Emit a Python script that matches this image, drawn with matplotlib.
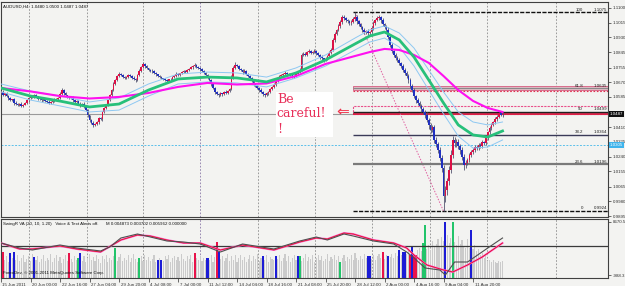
import matplotlib
matplotlib.use("Agg")
import matplotlib.pyplot as plt
import matplotlib.transforms as mtransforms
from matplotlib.patches import Rectangle
import numpy as np

# AUDUSD H4, 15 Jun - 12 Aug 2011
PIP = 0.0001
first_open = 1.0605
closes = [
    1.0614, 1.0598, 1.0605, 1.0590, 1.0578, 1.0567, 1.0572, 1.0551, 1.0544, 1.0538,
    1.0547, 1.0532, 1.0541, 1.0550, 1.0566, 1.0579, 1.0590, 1.0584, 1.0596, 1.0588,
    1.0575, 1.0579, 1.0566, 1.0571, 1.0559, 1.0556, 1.0548, 1.0555, 1.0561, 1.0570,
    1.0574, 1.0579, 1.0602, 1.0625, 1.0608, 1.0594, 1.0585, 1.0577, 1.0583, 1.0566,
    1.0556, 1.0562, 1.0547, 1.0538, 1.0544, 1.0527, 1.0509, 1.0478, 1.0452, 1.0436,
    1.0423, 1.0431, 1.0440, 1.0462, 1.0455, 1.0498, 1.0519, 1.0541, 1.0567, 1.0594,
    1.0625, 1.0660, 1.0683, 1.0706, 1.0718, 1.0710, 1.0701, 1.0695, 1.0703, 1.0712,
    1.0706, 1.0696, 1.0689, 1.0683, 1.0712, 1.0735, 1.0758, 1.0776, 1.0762, 1.0750,
    1.0741, 1.0733, 1.0738, 1.0724, 1.0715, 1.0707, 1.0700, 1.0692, 1.0688, 1.0683,
    1.0679, 1.0686, 1.0689, 1.0699, 1.0708, 1.0718, 1.0714, 1.0722, 1.0729, 1.0735,
    1.0731, 1.0741, 1.0749, 1.0757, 1.0764, 1.0770, 1.0760, 1.0753, 1.0745, 1.0736,
    1.0724, 1.0712, 1.0700, 1.0682, 1.0660, 1.0637, 1.0614, 1.0603, 1.0596, 1.0605,
    1.0601, 1.0614, 1.0608, 1.0622, 1.0631, 1.0700, 1.0753, 1.0772, 1.0764, 1.0748,
    1.0740, 1.0729, 1.0735, 1.0718, 1.0706, 1.0694, 1.0677, 1.0660, 1.0648, 1.0637,
    1.0625, 1.0612, 1.0603, 1.0596, 1.0607, 1.0614, 1.0630, 1.0642, 1.0654, 1.0676,
    1.0695, 1.0707, 1.0712, 1.0718, 1.0724, 1.0715, 1.0718, 1.0711, 1.0703, 1.0706,
    1.0716, 1.0729, 1.0742, 1.0828, 1.0836, 1.0830, 1.0845, 1.0851, 1.0840, 1.0845,
    1.0852, 1.0838, 1.0828, 1.0816, 1.0808, 1.0799, 1.0806, 1.0822, 1.0840, 1.0858,
    1.0915, 1.0948, 1.0973, 1.0995, 1.1019, 1.1050, 1.1042, 1.1030, 1.1024, 1.1012,
    1.1019, 1.1036, 1.1048, 1.1022, 1.1007, 1.0990, 1.0973, 1.0960, 1.0968, 1.0955,
    1.0962, 1.0984, 1.1012, 1.1030, 1.1041, 1.1048, 1.1028, 1.1007, 1.0990, 1.0973,
    1.0930, 1.0886, 1.0850, 1.0828, 1.0812, 1.0799, 1.0780, 1.0764, 1.0741, 1.0724,
    1.0706, 1.0683, 1.0650, 1.0625, 1.0590, 1.0567, 1.0549, 1.0532, 1.0515, 1.0498,
    1.0480, 1.0452, 1.0420, 1.0394, 1.0410, 1.0336, 1.0310, 1.0278, 1.0230, 1.0173,
    1.0010, 1.0046, 1.0098, 1.0162, 1.0250, 1.0336, 1.0318, 1.0324, 1.0300, 1.0278,
    1.0240, 1.0191, 1.0205, 1.0220, 1.0248, 1.0266, 1.0280, 1.0295, 1.0288, 1.0307,
    1.0300, 1.0324, 1.0316, 1.0347, 1.0380, 1.0405, 1.0424, 1.0440, 1.0458, 1.0469,
    1.0492, 1.0481, 1.0487,
]
# wick lengths in pips above / below the candle body
upper_wick = [
    6, 9, 4, 7, 5, 8, 3, 6, 10, 4,   5, 7, 3, 8, 6, 4, 9, 5, 7, 6,
    4, 8, 5, 3, 7, 6, 9, 4, 5, 8,    6, 4, 9, 12, 5, 7, 4, 6, 8, 5,
    7, 5, 4, 8, 6, 9, 5, 7, 4, 6,    8, 5, 7, 6, 9, 4, 8, 5, 6, 7,
    5, 9, 6, 8, 10, 5, 7, 4, 6, 8,   6, 5, 8, 4, 7, 9, 6, 11, 5, 7,
    4, 6, 8, 5, 7, 4, 6, 9, 5, 6,    7, 4, 6, 8, 5, 9, 6, 4, 7, 5,
    8, 6, 5, 9, 7, 10, 5, 6, 4, 7,   6, 8, 5, 7, 9, 6, 8, 5, 7, 6,
    5, 7, 9, 6, 8, 12, 10, 14, 6, 8, 7, 5, 9, 6, 8, 5, 7, 6, 4, 8,
    6, 9, 5, 7, 4, 8, 6, 5, 9, 7,    8, 6, 7, 5, 9, 6, 4, 8, 5, 7,
    6, 9, 12, 10, 7, 8, 6, 9, 5, 7,  8, 5, 7, 6, 9, 5, 8, 7, 10, 12,
    9, 11, 8, 10, 12, 9, 7, 8, 6, 9, 10, 14, 27, 12, 8, 9, 7, 10, 6, 8,
    7, 9, 10, 8, 11, 9, 8, 12, 7, 10,  15, 12, 10, 9, 11, 8, 10, 9, 12, 10,
    11, 9, 13, 10, 12, 9, 14, 11, 10, 13,  12, 15, 11, 14, 10, 13, 16, 12, 15, 18,
    20, 25, 18, 22, 30, 20, 18, 16, 15, 14,  16, 12, 14, 11, 13, 10, 12, 9, 11, 10,
    9, 11, 8, 12, 10, 9, 11, 8, 10, 9, 7, 8, 13,
]
lower_wick = [
    5, 8, 6, 4, 9, 5, 7, 10, 4, 6,   8, 5, 7, 4, 6, 9, 5, 7, 4, 6,
    7, 5, 9, 6, 4, 8, 6, 5, 7, 4,    5, 8, 6, 4, 9, 5, 7, 6, 4, 8,
    6, 4, 7, 9, 5, 8, 6, 10, 12, 9,  14, 8, 6, 9, 5, 7, 4, 6, 8, 5,
    7, 5, 6, 4, 8, 6, 9, 5, 7, 6,    5, 8, 6, 9, 4, 6, 5, 7, 8, 6,
    7, 5, 9, 6, 8, 5, 7, 4, 6, 8,    6, 8, 5, 7, 4, 6, 9, 5, 7, 6,
    5, 7, 6, 4, 8, 5, 7, 6, 9, 5,    8, 6, 9, 7, 10, 8, 12, 9, 14, 7,
    9, 6, 8, 5, 7, 6, 9, 5, 8, 7,    6, 9, 5, 7, 6, 8, 7, 9, 6, 8,
    9, 7, 10, 12, 6, 8, 5, 7, 6, 8,  6, 7, 5, 8, 6, 9, 5, 7, 8, 6,
    7, 5, 8, 9, 6, 10, 7, 8, 6, 9,   7, 8, 6, 9, 10, 12, 7, 8, 9, 6,
    8, 10, 7, 9, 8, 11, 9, 10, 8, 12,  9, 8, 10, 12, 9, 11, 10, 13, 9, 12,
    10, 8, 9, 11, 8, 10, 12, 9, 13, 11,  12, 14, 10, 13, 11, 12, 10, 14, 11, 13,
    12, 15, 11, 14, 12, 16, 13, 12, 15, 14,  16, 13, 18, 15, 14, 17, 15, 19, 16, 22,
    86, 35, 30, 25, 20, 18, 22, 20, 17, 24,  20, 28, 18, 15, 14, 12, 13, 11, 12, 10,
    11, 9, 12, 10, 11, 9, 10, 8, 9, 10, 8, 7, 14,
]

# moving averages, sampled every few bars
ma_bars = [0, 16, 32, 48, 64, 80, 96, 112, 128, 144, 160, 176, 192, 200, 208, 216,
           224, 232, 240, 248, 256, 264, 272]
magenta_ma = [1.0637, 1.0617, 1.0590, 1.0576, 1.0585, 1.0608, 1.0643, 1.0666, 1.0657,
              1.0663, 1.0706, 1.0776, 1.0822, 1.0845, 1.0863, 1.0857, 1.0828, 1.0782,
              1.0706, 1.0625, 1.0562, 1.0521, 1.0498]
green_ma = [1.0637, 1.0590, 1.0561, 1.0527, 1.0544, 1.0625, 1.0689, 1.0700, 1.0695,
            1.0672, 1.0724, 1.0799, 1.0892, 1.0938, 1.0961, 1.0915, 1.0816, 1.0683,
            1.0550, 1.0423, 1.0365, 1.0353, 1.0388]
band_hi = [1.0660, 1.0619, 1.0590, 1.0556, 1.0579, 1.0660, 1.0718, 1.0729, 1.0724,
           1.0700, 1.0753, 1.0828, 1.0926, 1.0973, 1.0996, 1.0955, 1.0868, 1.0741,
           1.0614, 1.0498, 1.0440, 1.0423, 1.0440]
band_lo = [1.0614, 1.0567, 1.0533, 1.0498, 1.0509, 1.0590, 1.0660, 1.0672, 1.0666,
           1.0643, 1.0695, 1.0764, 1.0857, 1.0903, 1.0926, 1.0874, 1.0764, 1.0625,
           1.0487, 1.0358, 1.0289, 1.0295, 1.0336]

fib_high = 1.1075
fib_low = 0.9924
fib_start_bar = 192
fib_end_bar = 240
fib_levels = [100, 61.8, 50, 38.2, 23.6, 0]

bid = 1.0487
blue_level = 1.0305
resist_zone = (1.0484, 1.0532)
golden_zone = (1.0625, 1.0649)
red_dotted = 1.0620

price_ticks = [1.1100, 1.1015, 1.0930, 1.0845, 1.0755, 1.0670, 1.0585, 1.0410,
               1.0325, 1.0240, 1.0155, 1.0065, 0.9980, 0.9895]
date_labels = ["15 Jun 2011", "20 Jun 00:00", "22 Jun 16:00", "27 Jun 04:00",
               "29 Jun 20:00", "4 Jul 08:00", "7 Jul 00:00", "11 Jul 12:00",
               "14 Jul 04:00", "18 Jul 16:00", "21 Jul 08:00", "25 Jul 20:00",
               "28 Jul 12:00", "2 Aug 00:00", "4 Aug 16:00", "9 Aug 04:00",
               "11 Aug 20:00"]
grid_bars = [15.2, 46.6, 77, 108, 139.4, 170.3, 201.2, 232.7, 263.6, 301]

# SwingR VA sub window
volume = [
    2300, 3204, 1700, 2500, 1400, 3022, 2100, 3204, 1800, 2600,
    1500, 2200, 2700, 1300, 1900, 2500, 1600, 2800, 2293, 1700,
    2400, 1300, 2000, 2700, 1500, 2200, 1800, 2900, 1400, 2100,
    2600, 1600, 2300, 1200, 1900, 2700, 1500, 3022, 2000, 1400,
    2500, 1800, 2111, 3022, 1600, 2400, 1300, 2200, 2800, 1700,
    2300, 1500, 2600, 1900, 1200, 2400, 2000, 2700, 1400, 2200,
    1800, 2500, 3934, 1600, 2300, 2900, 1500, 2100, 1700, 2600,
    1400, 2200, 2800, 1900, 1300, 2111, 2400, 1600, 2700, 1800,
    2300, 1500, 2000, 2600, 1400, 1747, 2200, 1747, 1600, 2400,
    1900, 2700, 1300, 2100, 2500, 1700, 2300, 1500, 2800, 2000,
    1600, 2400, 1900, 2600, 1400, 3022, 2200, 1700, 2500, 1500,
    2100, 1800, 2111, 1800, 2700, 1400, 2300, 5026, 3204, 1900,
    2500, 1600, 2200, 2900, 1500, 2400, 1800, 2600, 1300, 2100,
    2700, 1700, 2300, 1400, 2000, 2600, 1600, 2400, 1900, 2800,
    1500, 2200, 2476, 1800, 2600, 1400, 2300, 2000, 1700, 2476,
    1900, 2700, 1500, 2200, 2800, 1600, 2400, 1300, 2100, 2600,
    1800, 2476, 2476, 1600, 2200, 2900, 1500, 2300, 1900, 2600,
    1400, 2200, 2700, 1700, 2400, 1600, 2000, 2800, 1500, 2300,
    1900, 2600, 1700, 2400, 1382, 2100, 2700, 1600, 2300, 2000,
    2600, 1800, 3000, 2200, 1700, 2500, 1900, 2800, 2100, 2476,
    2476, 2000, 2700, 1800, 2400, 2900, 2200, 3204, 1900, 2600,
    2476, 2300, 2800, 2100, 3000, 2400, 3569, 2700, 3204, 3204,
    2900, 3300, 2658, 4116, 2658, 2658, 3500, 3900, 3300, 4844,
    8124, 3800, 4400, 3600, 5200, 4100, 4700, 5500, 4300, 6000,
    5200, 8670, 6300, 4800, 5800, 8670, 5000, 4400, 6100, 4700,
    5300, 4200, 3900, 5600, 4000, 7213, 3700, 4500, 3300, 3800,
    2600, 3100, 2200, 2800, 1500, 1700, 1300, 1800, 1400, 1200,
    1600, 1300, 1500,
]
signal_bars = [1, 5, 7, 18, 37, 42, 43, 62, 75, 85, 87, 105, 112, 117, 118, 142, 149,
               161, 162, 184, 199, 200, 207, 210, 216, 218, 219, 222, 223, 224, 225,
               229, 230, 241, 245, 255]
signal_kind = ["r", "b", "b", "b", "r", "g", "b", "g", "g", "b", "b", "r", "b", "r",
               "b", "b", "b", "b", "g", "g", "b", "b", "r", "b", "b", "b", "b", "r",
               "b", "r", "r", "g", "g", "b", "g", "b"]
red_bars = [0, 10, 17, 32, 41, 54, 65, 74, 81, 90, 99, 108, 119, 131, 148, 162, 171,
            177, 186, 191, 202, 213, 220, 224, 231, 240, 245, 253, 261, 272]
red_vals = [4844, 3751, 3751, 4298, 3751, 3204, 5391, 6302, 6120, 5391, 4844, 4844,
            3569, 4480, 3569, 5026, 5755, 5573, 6666, 6484, 5391, 4844, 3934, 2658,
            836, -76, -440, 836, 2293, 4844]
black_bars = [0, 10, 17, 32, 41, 54, 59, 65, 74, 81, 90, 99, 108, 119, 131, 148, 162,
              171, 177, 186, 191, 202, 213, 220, 224, 230, 238, 241, 246, 253, 264, 272]
black_vals = [4844, 3934, 3569, 4480, 3934, 3386, 4116, 5755, 6484, 5938, 5209, 5026,
              4662, 3204, 4662, 3751, 5209, 5938, 5391, 6484, 6120, 5209, 4662, 3204,
              2111, 289, -76, -987, 1382, 1382, 3934, 5755]
sub_level = 4300
sub_ticks = [8670.5, -988.3]

BG = "#f3f3f1"
SMALL = dict(family="Liberation Sans", fontsize=3.2)
XMAX = 329.2
kind_color = {"r": "#e8134a", "b": "#1c1cd6", "g": "#22c46a"}

n = len(closes)
bars = np.arange(n)
c = np.array(closes)
o = np.concatenate([[first_open], c[:-1]])
hi = np.maximum(o, c) + np.array(upper_wick) * PIP
lo = np.minimum(o, c) - np.array(lower_wick) * PIP

W, H = 625.0, 286.0
fig = plt.figure(figsize=(6.25, 2.86), dpi=100, facecolor=BG)
ax = fig.add_axes([1 / W, 1 - 217 / H, 607 / W, 215 / H], facecolor=BG)
vx = fig.add_axes([1 / W, 1 - 278 / H, 607 / W, 59 / H], facecolor=BG, sharex=ax)

ax.set_xlim(0, XMAX)
ax.set_ylim(0.98899, 1.11347)

for g in grid_bars:
    col = "#8a78a8" if g == 108 else "#8c8c8c"
    ax.axvline(g, color=col, lw=0.6, ls=(0, (2, 2)), zorder=1)
    vx.axvline(g, color=col, lw=0.6, ls=(0, (2, 2)), zorder=1)

# horizontal objects
ax.axhline(bid, color="#9a9a9a", lw=0.8, zorder=2)
ax.axhline(blue_level, color="#5cc0ea", lw=0.7, ls=(0, (2, 1.5)), zorder=2)
ax.add_patch(Rectangle((fib_start_bar - 1, golden_zone[0]), XMAX, golden_zone[1] - golden_zone[0],
                       fc="#efc3cf", ec="#d86c8c", lw=0.7, zorder=2))
ax.hlines(red_dotted, fib_start_bar - 1, XMAX, color="#e03050", lw=0.8, ls=(0, (1.5, 1.5)), zorder=2)
ax.add_patch(Rectangle((fib_start_bar - 1, resist_zone[0]), XMAX, resist_zone[1] - resist_zone[0],
                       fill=False, ec="#e8508a", lw=0.8, ls=(0, (2, 1)), zorder=2))
ax.hlines(bid, fib_start_bar - 1, XMAX, color="#e01840", lw=1.3, zorder=2)

# fibonacci retracement
fib_style = {100: ("#101010", (0, (3, 1)), 1.0), 61.8: ("#8a8a8a", "-", 1.0),
             50: ("#202020", "-", 1.0), 38.2: ("#3a3a58", "-", 1.0),
             23.6: ("#7a7a7a", "-", 1.6), 0: ("#101010", (0, (3, 1)), 1.0)}
ax.plot([fib_start_bar, fib_end_bar], [fib_high, fib_low], color="#e060a0", lw=0.7,
        ls=(0, (1.5, 1.5)), zorder=2)
for lv in fib_levels:
    p = fib_low + (fib_high - fib_low) * lv / 100
    col, ls, lw = fib_style[lv]
    ax.hlines(p, fib_start_bar - 1, XMAX, color=col, lw=lw, ls=ls, zorder=3)
    ax.text(315.7, p + 0.0004, f"{lv:g}", ha="right", va="bottom", color="#202020", **SMALL)
    ax.text(328.6, p + 0.0004, f"{p:.4f}", ha="right", va="bottom", color="#202020", **SMALL)

# candles
up = c >= o
ax.vlines(bars, lo, hi, color="#545470", lw=0.6, zorder=4)
ax.bar(bars, np.maximum(np.abs(c - o), 0.00018), bottom=np.minimum(o, c), width=0.9,
       color=np.where(up, "#dc1046", "#2030c0"), linewidth=0, zorder=5)

# moving averages
ax.plot(ma_bars, band_hi, color="#8ec8f2", lw=0.7, zorder=6)
ax.plot(ma_bars, band_lo, color="#8ec8f2", lw=0.7, zorder=6)
ax.plot(ma_bars, magenta_ma, color="#ff10f0", lw=1.5, zorder=6)
ax.plot(ma_bars, green_ma, color="#27c07a", lw=2.0, zorder=7)

# note
ax.add_patch(Rectangle((149.2, 1.0353), 30.9, 1.0614 - 1.0353, fc="white", ec="none", zorder=8))
for txt, yb in [("Be", 1.0552), ("careful!", 1.0471), ("!", 1.0378)]:
    ax.text(149.6, yb, txt, family="DejaVu Serif", fontsize=9, color="#e8305a",
            va="baseline", ha="left", zorder=9)
ax.text(185.5, 1.0500, "\u21d0", family="DejaVu Sans", fontsize=11, color="#f0304a",
        ha="center", va="center", zorder=9)

ax.text(0.004, 0.99, "AUDUSD,H4  1.0480 1.0500 1.0487 1.0487", transform=ax.transAxes,
        va="top", ha="left", color="#101010", **SMALL)

# right price scale
ax.yaxis.tick_right()
ax.set_yticks(price_ticks)
ax.set_yticklabels([f"{p:.4f}" for p in price_ticks], **SMALL)
ax.tick_params(axis="y", length=2, width=0.5, pad=1.5, colors="#303030")
ax.tick_params(axis="x", bottom=False, labelbottom=False)
trans = mtransforms.blended_transform_factory(ax.transAxes, ax.transData)
ax.text(1.003, bid, f"{bid:.4f}", transform=trans, color="white", va="center", ha="left",
        bbox=dict(fc="#101010", ec="none", pad=0.7), clip_on=False, zorder=10, **SMALL)
ax.text(1.003, blue_level, f"{blue_level:.4f}", transform=trans, color="white", va="center",
        ha="left", bbox=dict(fc="#40b4ec", ec="none", pad=0.7), clip_on=False, zorder=10, **SMALL)

# sub window
vbot, vtop = -1533, 9217
vx.set_ylim(vbot, vtop)
vol = np.array(volume)
vx.bar(bars, vol - vbot, bottom=vbot, width=0.6, color="#cbcbcb", linewidth=0, zorder=2)
sb = np.array(signal_bars)
vx.bar(sb, vol[sb] - vbot, bottom=vbot, width=1.1, linewidth=0, zorder=3,
       color=[kind_color[k] for k in signal_kind])
vx.axhline(sub_level, color="#3a3a3a", lw=0.9, zorder=4)
vx.plot(red_bars, red_vals, color="#ff60d0", lw=1.4, zorder=5)
vx.plot(red_bars, red_vals, color="#e01020", lw=0.6, zorder=6)
vx.plot(black_bars, black_vals, color="#505050", lw=0.8, zorder=6)
vx.text(0.004, 0.915, "SwingR VA (20, 10, 1.20)   Voice & Text Alerts off.      "
        "M 0.004873 0.003702 0.005962 0.000000", transform=vx.transAxes, va="center",
        ha="left", color="#101010", **SMALL)
vx.text(0.004, 0.085, "ForexDev, \u00a9 2001-2011 MetaQuotes Software Corp.",
        transform=vx.transAxes, va="center", ha="left", color="#101010", **SMALL)

vx.yaxis.tick_right()
vx.set_yticks(sub_ticks)
vx.set_yticklabels([f"{v:.1f}" for v in sub_ticks], **SMALL)
vx.tick_params(axis="y", length=2, width=0.5, pad=1.5, colors="#303030")
vx.set_xticks(np.arange(0, 16 * len(date_labels), 16))
vx.set_xticklabels(date_labels, ha="left", **SMALL)
vx.tick_params(axis="x", length=3, width=0.5, pad=0.6, colors="#303030")
offset = mtransforms.ScaledTranslation(1.5 / 100, 0, fig.dpi_scale_trans)
for lab in vx.get_xticklabels():
    lab.set_transform(lab.get_transform() + offset)

for a in (ax, vx):
    for s in a.spines.values():
        s.set_color("#404040")
        s.set_linewidth(0.8)

fig.savefig("out.png", dpi=100, facecolor=BG)
